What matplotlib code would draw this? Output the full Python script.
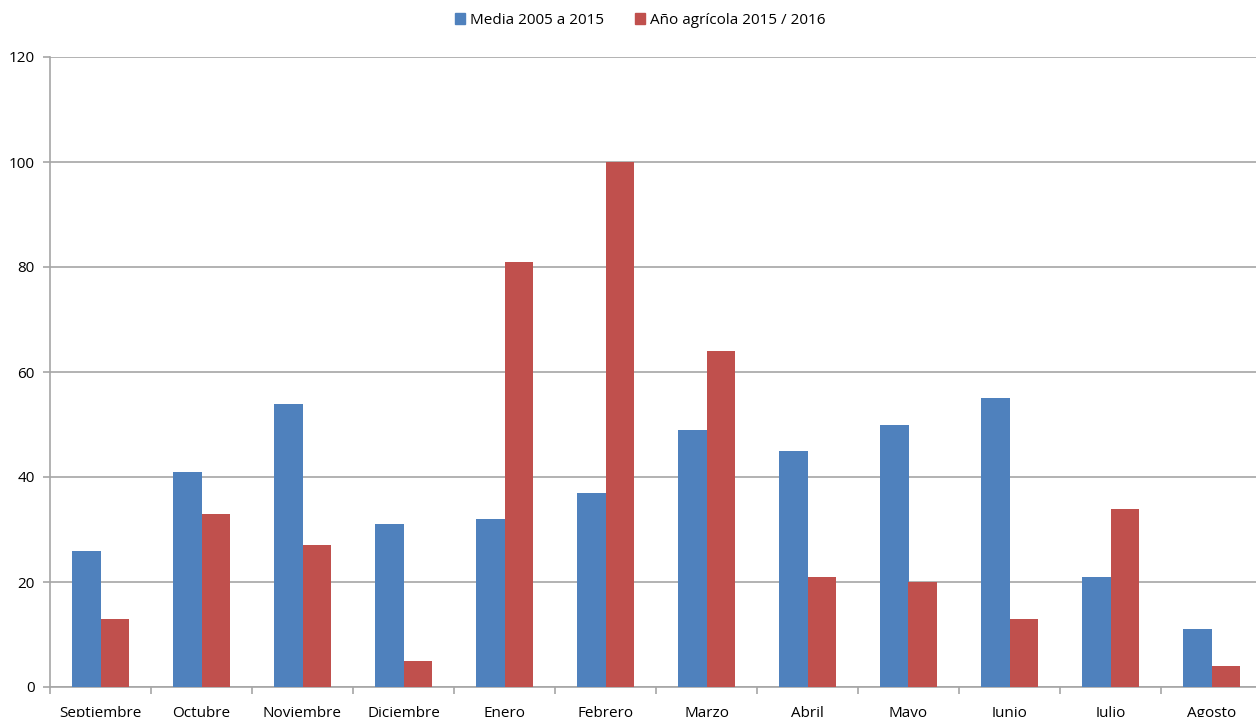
import matplotlib
matplotlib.use("Agg")
import matplotlib.pyplot as plt
import numpy as np
from matplotlib.patches import Patch

meses = ["Septiembre", "Octubre", "Noviembre", "Diciembre", "Enero", "Febrero",
         "Marzo", "Abril", "Mayo", "Junio", "Julio", "Agosto"]
media = [26, 41, 54, 31, 32, 37, 49, 45, 50, 55, 21, 11]
anio = [13, 33, 27, 5, 81, 100, 64, 21, 20, 13, 34, 4]
serie_labels = ["Media 2005 a 2015", "Año agrícola 2015 / 2016"]
yticks = [0, 20, 40, 60, 80, 100, 120]

blue = "#4F81BD"
red = "#C0504D"
grid = "#A6A6A6"

plt.rcParams['font.family'] = ['Open Sans', 'DejaVu Sans']

fig = plt.figure(figsize=(12.56, 7.17), dpi=100)
ax = fig.add_axes([50/1256, 30/717, 1212/1256, 630/717])

x = np.arange(len(meses))
w = 1/3.5
ax.bar(x - w/2, media, width=w, color=blue, zorder=3)
ax.bar(x + w/2, anio, width=w, color=red, zorder=3)

ax.set_xlim(-0.5, len(meses) - 0.5)
ax.set_ylim(0, 120)
ax.set_yticks(yticks)
ax.set_yticklabels([str(v) for v in yticks], fontsize=11)
ax.yaxis.grid(True, color=grid, linewidth=1.2, zorder=0)
ax.set_xticks(x)
ax.set_xticklabels(meses, fontsize=11)
ax.set_xticks(np.arange(-0.5, len(meses) + 0.5, 1), minor=True)
ax.tick_params(axis='x', which='major', length=0, pad=14)
ax.tick_params(axis='x', which='minor', length=5, color=grid, width=1.2)
ax.tick_params(axis='y', length=5, color=grid, width=1.2, pad=6)

for s in ['top', 'right']:
    ax.spines[s].set_visible(False)
for s in ['left', 'bottom']:
    ax.spines[s].set_color(grid)
    ax.spines[s].set_linewidth(1.2)

handles = [Patch(color=blue), Patch(color=red)]
fig.legend(handles, serie_labels, loc='center', bbox_to_anchor=(640/1256, 1 - 20/717),
           ncol=2, frameon=False, fontsize=11, handlelength=0.7, handleheight=0.7,
           handletextpad=0.3, columnspacing=2.0)

fig.savefig("out.png", dpi=100)
